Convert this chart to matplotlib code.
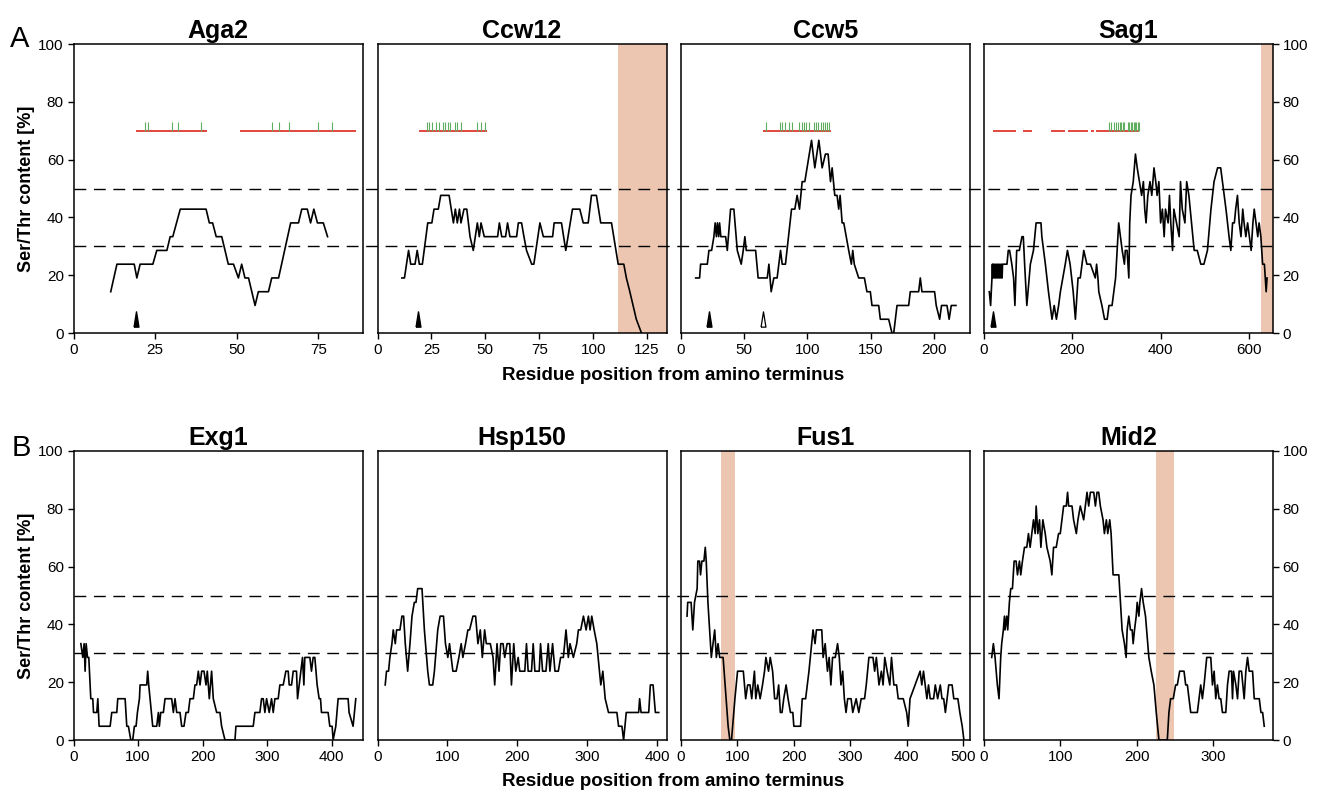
import matplotlib
matplotlib.use("Agg")
import matplotlib.pyplot as plt
import matplotlib.transforms as mtransforms
from matplotlib.lines import Line2D
import numpy as np

plt.rcParams['font.family'] = ['Liberation Sans', 'DejaVu Sans']

# sliding window of 21 residues -> content = count / 21
WINDOW = 21

# ---- row A ----
aga2_x = [11.4, 13.3, 18.6, 19.4, 20.4, 24.3, 25.5, 28.6, 29.6, 30.4, 32.7, 40.6, 41.6, 42.6, 43.7, 45.4,
          47.4, 49, 50.5, 51.5, 52.5, 53.6, 55.6, 56.6, 59.7, 60.7, 62.8, 66.5, 68.9, 69.9, 71.6, 72.6,
          73.6, 74.7, 76.5, 77.8]
aga2_k = [3, 5, 5, 4, 5, 5, 6, 6, 7, 7, 9, 9, 8, 8, 7, 7, 5, 5, 4, 5, 4, 4, 2, 3, 3, 4, 4, 8, 8, 9, 9, 8,
          9, 8, 8, 7]

ccw12_x = [11.3, 12.5, 14.4, 15.4, 17.4, 18.4, 19.4, 20.8, 23.3, 25.2, 26.2, 28.2, 29.3, 33.2, 35.2, 36.1,
           37, 38, 38.7, 40.1, 41.4, 42.9, 44.4, 46.3, 47.2, 48, 49.5, 55.7, 56.5, 57.6, 59.4, 60.3, 61.4,
           64.5, 65.3, 66.8, 67.9, 69.1, 71.5, 72.5, 75.3, 76.9, 81.2, 81.9, 85.3, 87.3, 90.4, 93.8, 95.4,
           97.7, 99.2, 101.5, 103.5, 108.5, 111.6, 114.2, 115.4, 117, 118.5, 120, 122.4]
ccw12_k = [4, 4, 6, 5, 5, 6, 5, 5, 8, 8, 9, 9, 10, 10, 8, 9, 8, 9, 8, 9, 9, 7, 6, 8, 7, 8, 7, 7, 8, 7, 7,
           8, 7, 7, 8, 8, 7, 6, 5, 5, 8, 7, 7, 8, 8, 6, 9, 9, 8, 8, 10, 10, 8, 8, 5, 5, 4, 3, 2, 1, 0]

ccw5_x = [11.6, 14.7, 15.5, 20.8, 22.1, 24.2, 26, 27, 28, 28.8, 29.8, 30.5, 31.5, 35.3, 36.6, 39.2, 41.8,
          44.5, 47.6, 49.2, 50.5, 51.6, 59, 61, 68.2, 69.5, 71.3, 73.4, 76, 78.7, 80, 82.6, 87.4, 90, 91.8,
          93.7, 95.8, 97.9, 103.2, 105.8, 109, 111.6, 114.2, 116.3, 118.2, 119.5, 121.6, 123.4, 124.7,
          125.8, 127.4, 128.7, 132.6, 134.7, 135.8, 137, 140.5, 145, 147, 149.7, 151, 156.3, 157.6, 164.2,
          166.8, 168.2, 170.8, 180, 181.3, 187.9, 189.2, 190.5, 200.5, 201.8, 204.5, 206, 210.3, 212,
          213.7, 217.4]
ccw5_k = [4, 4, 5, 5, 6, 6, 7, 8, 7, 8, 7, 8, 7, 7, 6, 9, 9, 6, 5, 6, 7, 6, 6, 4, 4, 5, 3, 4, 4, 6, 5, 5,
          9, 9, 10, 9, 11, 11, 14, 12, 14, 12, 13, 13, 11, 12, 10, 10, 9, 10, 8, 8, 6, 5, 6, 5, 4, 4, 3, 3,
          2, 2, 1, 1, 0, 0, 2, 2, 3, 3, 4, 3, 3, 2, 1, 2, 2, 1, 2, 2]

sag1_x = [12, 15, 18, 19, 20, 21, 23, 24, 26, 27, 29, 30, 32, 33, 35, 36, 38, 39, 41, 42, 44, 48, 52, 55,
          58, 63, 67, 70, 74, 80, 86, 89, 92, 97, 105, 112, 118, 129, 131, 135, 139, 146, 154, 159, 164,
          169, 173, 184, 189, 195, 202, 207, 213, 218, 226, 233, 241, 252, 255, 258, 260, 267, 273, 279,
          283, 290, 294, 298, 305, 309, 313, 318, 320, 324, 328, 330, 333, 338, 343, 347, 352, 357, 361,
          364, 367, 371, 376, 380, 385, 389, 392, 396, 400, 404, 408, 411, 417, 420, 423, 427, 430, 436,
          442, 445, 449, 455, 459, 464, 476, 483, 491, 498, 506, 514, 521, 529, 536, 540, 548, 555, 559,
          563, 567, 570, 574, 578, 582, 586, 589, 593, 597, 601, 605, 609, 612, 616, 620, 623, 627, 631,
          635, 639, 641]
sag1_k = [3, 2, 4, 5, 4, 5, 4, 5, 4, 5, 4, 5, 4, 5, 4, 5, 4, 5, 4, 5, 5, 5, 5, 6, 6, 5, 4, 2, 6, 6, 7,
          7, 5, 2, 5, 6, 8, 8, 7, 6, 5, 3, 1, 2, 1, 2, 3, 5, 6, 5, 3, 1, 4, 4, 6, 5, 5, 4, 5, 4, 3, 2, 1,
          1, 2, 2, 3, 4, 8, 7, 6, 5, 6, 6, 4, 8, 10, 11, 13, 12, 11, 10, 11, 9, 8, 10, 11, 10, 12, 11, 10,
          11, 8, 9, 7, 9, 8, 10, 8, 6, 9, 8, 7, 11, 9, 8, 11, 10, 6, 6, 5, 5, 6, 9, 11, 12, 12, 11, 9, 7,
          6, 8, 8, 9, 10, 8, 7, 9, 8, 7, 8, 7, 6, 8, 9, 8, 7, 8, 7, 5, 5, 3, 4]

# ---- row B ----
exg1_x = [11.4, 14.4, 16.5, 18, 19.6, 21.7, 23.7, 26.8, 29.9, 31, 36.1, 37.7, 39.7, 56.8, 59.3, 67.1, 68.6,
          80, 82.6, 85.1, 88.8, 91.8, 94.4, 97, 99.1, 102.2, 103.2, 113.5, 115, 116.6, 118.7, 122.8, 129,
          131.6, 133.1, 135.2, 139.3, 141.9, 152.2, 154.8, 157.4, 160, 165.1, 167.7, 171.3, 174.4, 178,
          180.6, 185.8, 188.3, 190.9, 193.5, 196.1, 198.7, 202.3, 205.4, 207.4, 210.5, 214.1, 216.7,
          221.9, 227, 229.6, 234.8, 250.3, 251.8, 278.6, 281.2, 288.9, 291.5, 294.1, 296.7, 299.3, 303.4,
          307, 309.6, 312.2, 317.3, 319.9, 325.1, 329.2, 332.8, 334.4, 338, 340.6, 345.7, 347.3, 355,
          357.1, 358.6, 366.4, 368.9, 371.5, 374.1, 377.7, 380.8, 382.9, 384.4, 394.7, 397.3, 400.9,
          402.5, 406.6, 410.2, 425.7, 427.2, 433.4, 437.6]
exg1_k = [7, 6, 7, 5, 7, 6, 6, 3, 3, 2, 2, 3, 1, 1, 2, 2, 3, 3, 1, 1, 0, 0, 1, 1, 2, 3, 4, 4, 5, 4, 3, 1,
          1, 2, 1, 2, 2, 3, 3, 2, 3, 2, 2, 1, 1, 2, 2, 3, 3, 4, 4, 5, 4, 5, 5, 4, 5, 3, 5, 3, 2, 2, 1, 0,
          0, 1, 1, 2, 2, 3, 3, 2, 3, 2, 3, 2, 3, 3, 4, 4, 5, 5, 4, 4, 5, 5, 3, 6, 4, 6, 6, 5, 6, 6, 4, 3,
          3, 2, 2, 1, 1, 0, 1, 3, 3, 2, 1, 3]

hsp150_x = [11, 12.9, 15.8, 17.7, 20.6, 22.5, 25.4, 27.3, 32.1, 34.9, 37.3, 39.7, 43.1, 46.4, 49.3, 52.6,
            55, 57.4, 63.6, 67, 71.8, 74.2, 78.9, 81.3, 86.1, 89.5, 94.3, 97.1, 100.5, 102.9, 105.3,
            107.7, 112.4, 116.3, 119.6, 122, 125.8, 129.2, 131.6, 136.4, 140.2, 143.5, 146.9, 149.8,
            153.1, 155.5, 161.2, 165.1, 167.5, 170.8, 173.7, 176.1, 179.4, 181.8, 185.2, 189, 191.4,
            194.7, 197.6, 201, 203.3, 210.5, 212.9, 215.3, 220.1, 222.5, 224.9, 231.1, 233, 235.9, 240.7,
            244, 246.4, 250.2, 253.6, 258.4, 261.7, 265.6, 269.4, 272.7, 275.1, 279.9, 284.7, 287.1,
            290.4, 294.3, 298.1, 301.4, 303.8, 306.2, 309.6, 313.4, 317.2, 319.1, 322, 325.4, 330.1,
            342.1, 344.5, 349.3, 351.7, 355.5, 373.2, 374.6, 376.6, 387.6, 389.9, 393.8, 397.1, 401.9]
hsp150_k = [4, 5, 5, 6, 7, 8, 7, 8, 8, 9, 9, 7, 5, 7, 9, 10, 10, 11, 11, 8, 5, 4, 4, 5, 8, 9, 9, 7, 6,
            7, 6, 5, 5, 6, 7, 6, 7, 8, 8, 9, 9, 7, 8, 6, 8, 7, 7, 6, 4, 7, 5, 7, 7, 6, 7, 7, 4, 7, 5, 6,
            5, 5, 7, 5, 5, 7, 5, 5, 7, 5, 5, 7, 5, 7, 5, 5, 6, 6, 8, 6, 7, 6, 7, 8, 8, 9, 8, 9, 8, 9, 8,
            7, 5, 4, 5, 3, 2, 2, 1, 1, 0, 2, 2, 3, 2, 2, 4, 4, 2, 2]

fus1_x = [10.7, 11.9, 17.9, 20.9, 23.9, 28.6, 29.8, 32.8, 34.6, 37, 40.6, 43, 44.7, 47.7, 50.7, 53.7,
          56.7, 59.7, 62.6, 65.6, 68.6, 74.6, 83.5, 86.5, 89.5, 95.5, 100.2, 110.4, 114.6, 118.1, 122.3,
          125.3, 130.1, 132.5, 136, 140.2, 144.4, 148, 150.4, 155.1, 158.1, 162.3, 165.9, 170, 173, 176,
          179, 182, 186.2, 189.7, 193.9, 198.1, 199.9, 211.8, 214.8, 220.8, 226.7, 231.5, 233.9, 237.5,
          239.9, 249.4, 251.8, 255.4, 259.5, 262.5, 265.5, 268.5, 273.3, 277.4, 280.4, 283.4, 286.4,
          289.4, 292.4, 295.3, 301.3, 304.3, 310.3, 315, 319.2, 325.2, 328.2, 332.9, 340.1, 343.1,
          346.1, 350.8, 355, 358, 361, 365.2, 369.9, 372.9, 377.1, 381.9, 384.8, 393.8, 399.8, 402.7,
          405.7, 414.7, 423.6, 426.6, 429.6, 432.6, 435.6, 438.5, 441.5, 447.5, 450.5, 454.7, 459.4,
          462.4, 465.4, 468.4, 471.4, 474.3, 480.3, 483.3, 490.5, 494, 498.2, 501.2]
fus1_k = [9, 10, 10, 8, 10, 11, 13, 13, 12, 13, 13, 14, 13, 10, 8, 6, 7, 8, 6, 7, 6, 6, 1, 0, 0, 3, 5, 5,
          3, 4, 4, 3, 5, 3, 4, 3, 4, 5, 6, 5, 6, 5, 3, 3, 4, 2, 2, 3, 4, 3, 2, 2, 1, 1, 3, 3, 5, 7, 8, 7,
          8, 8, 6, 7, 5, 6, 4, 6, 6, 7, 6, 4, 5, 3, 2, 3, 3, 2, 3, 2, 3, 3, 4, 6, 6, 5, 6, 4, 5, 4, 6, 5,
          4, 6, 4, 4, 3, 3, 2, 1, 3, 4, 5, 4, 5, 4, 3, 4, 3, 3, 4, 3, 4, 3, 3, 2, 3, 4, 4, 3, 3, 2, 1, 0]

mid2_x = [10.1, 12.3, 14.5, 17.5, 19.7, 21.9, 23.2, 25.4, 26.8, 27.6, 29.8, 31.1, 33.3, 35.1, 37.3, 39.5,
          42.1, 43.9, 46.5, 48.2, 50.4, 53.1, 56.1, 58.3, 60.5, 62.7, 64.9, 67.1, 68.4, 70.6, 72.8, 74.6,
          77.2, 80.3, 82.5, 86.8, 89, 91.2, 94.7, 97.8, 100, 102.2, 104.4, 107.9, 109.6, 111, 115.4,
          117.5, 121.1, 123.2, 126.3, 130.7, 135.1, 137.3, 139.5, 143.9, 146.1, 148.2, 150.4, 152.6,
          156.1, 157.9, 160.5, 162.3, 164.9, 166.7, 169.3, 176.8, 178.9, 181.1, 184.2, 186.4, 187.7,
          189.9, 192.1, 194.3, 195.6, 197.4, 199.6, 200.9, 203.1, 204.4, 206.6, 208.8, 211.8, 216.2,
          219.3, 222.8, 225.9, 229.4, 240.4, 242.5, 244.7, 248.2, 251.3, 253.5, 256.6, 262.3, 264.5,
          266.7, 268.9, 271.1, 279.8, 282, 284.2, 286.4, 288.6, 292.1, 297.4, 299.6, 301.8, 303.9,
          306.1, 308.3, 310.5, 312.7, 317.1, 319.3, 321.5, 324.6, 325.9, 327.2, 330.3, 332.5, 334.6,
          337.7, 341.2, 343.4, 345.6, 347.8, 352.2, 354.4, 361, 363.2, 365.4, 367.5]
mid2_k = [6, 7, 6, 4, 3, 6, 7, 8, 9, 8, 9, 8, 10, 11, 11, 13, 13, 12, 13, 12, 13, 14, 14, 15, 14, 15, 16,
          15, 17, 15, 16, 14, 16, 15, 14, 13, 12, 14, 14, 15, 15, 16, 17, 17, 18, 17, 17, 16, 15, 16, 17,
          16, 18, 17, 18, 18, 17, 18, 18, 17, 16, 15, 16, 15, 16, 15, 12, 12, 10, 8, 7, 6, 8, 9, 8, 8, 7,
          8, 9, 10, 9, 10, 11, 10, 9, 6, 5, 4, 2, 0, 0, 2, 3, 3, 4, 4, 5, 5, 4, 4, 3, 2, 2, 3, 4, 3, 4,
          6, 6, 4, 5, 3, 4, 3, 3, 2, 2, 4, 5, 5, 3, 5, 4, 3, 5, 5, 3, 5, 6, 5, 5, 3, 3, 2, 2, 1]

# annotations (row A): red segments at 70 %, green S/T marks, arrowheads
aga2_red = [(19, 41), (51, 86.5)]
aga2_green = [21.9, 22.9, 30.1, 31.9, 39, 60.9, 62.9, 66, 75, 79.1]
ccw12_red = [(19.1, 50.9)]
ccw12_green = [22.8, 24, 25.5, 27, 28.4, 30.6, 31.5, 32.6, 33.8, 35.8, 37, 38.9, 46, 48, 49.8]
ccw5_red = [(64.7, 118.4)]
ccw5_green = [67.4, 77.9, 80, 82.6, 85.3, 87.9, 93.2, 95.3, 97.1, 98.9, 101, 105.3, 106.8, 108.4,
              110.3, 112.6, 114.2, 115.8, 117.4]
sag1_red = [(19.7, 72.7), (89, 108), (152, 184), (189.4, 235), (243, 248.5), (254.5, 351.5)]
sag1_green = [282.6, 287.9, 295.5, 300, 303.8, 307.6, 310.6, 314.4, 317.4, 326.5, 329.5, 332.6, 335.6,
              338.6, 341.7, 344.7, 347.7, 350.8]
arrow_filled = {"Aga2": [19], "Ccw12": [19], "Ccw5": [22], "Sag1": [20]}
arrow_open = {"Ccw5": [65]}

# shaded C-terminal / transmembrane regions
shade = {"Ccw12": (111.7, 134), "Sag1": (627, 654.5), "Fus1": (71, 95), "Mid2": (225, 249.6)}

names = [["Aga2", "Ccw12", "Ccw5", "Sag1"], ["Exg1", "Hsp150", "Fus1", "Mid2"]]
xmax = {"Aga2": 88.5, "Ccw12": 134, "Ccw5": 228.5, "Sag1": 654.5,
        "Exg1": 448, "Hsp150": 413, "Fus1": 512, "Mid2": 379}
xticks = {"Aga2": [0, 25, 50, 75], "Ccw12": [0, 25, 50, 75, 100, 125], "Ccw5": [0, 50, 100, 150, 200],
          "Sag1": [0, 200, 400, 600], "Exg1": [0, 100, 200, 300, 400], "Hsp150": [0, 100, 200, 300, 400],
          "Fus1": [0, 100, 200, 300, 400, 500], "Mid2": [0, 100, 200, 300]}
curves = {"Aga2": (aga2_x, aga2_k), "Ccw12": (ccw12_x, ccw12_k), "Ccw5": (ccw5_x, ccw5_k),
          "Sag1": (sag1_x, sag1_k), "Exg1": (exg1_x, exg1_k), "Hsp150": (hsp150_x, hsp150_k),
          "Fus1": (fus1_x, fus1_k), "Mid2": (mid2_x, mid2_k)}
marks = {"Aga2": (aga2_red, aga2_green), "Ccw12": (ccw12_red, ccw12_green),
         "Ccw5": (ccw5_red, ccw5_green), "Sag1": (sag1_red, sag1_green)}

W, H = 1325, 798
fig = plt.figure(figsize=(W / 100, H / 100), dpi=100)

lefts = [73.5, 377.5, 681, 984]
width = 289
tops = [44, 451]
height = 289

# narrow upward arrowhead, closed so the open one gets all three edges
tri = [(-0.32, -1), (0.32, -1), (0, 1), (-0.32, -1)]

axes = []
for r in range(2):
    row = []
    for c in range(4):
        name = names[r][c]
        ax = fig.add_axes([lefts[c] / W, 1 - (tops[r] + height) / H, width / W, height / H])
        x, k = curves[name]
        ax.plot(x, 100 * np.array(k) / WINDOW, color="black", lw=1.2, zorder=3)
        if name in shade:
            ax.axvspan(*shade[name], color="#ecc6b1", lw=0, zorder=0.5)
        if name in marks:
            red, green = marks[name]
            for a, b in red:
                ax.hlines(70, a, b, color="#e2463c", lw=1.4, zorder=2)
            ax.vlines(green, 70, 73, color="#5fae5f", lw=0.8, zorder=2)
        for xa in arrow_filled.get(name, []):
            ax.plot([xa], [4.8], marker=tri, ms=11, color="black", ls="none", zorder=4)
        for xa in arrow_open.get(name, []):
            ax.plot([xa], [4.8], marker=tri, ms=11, mfc="white", mec="black", mew=0.9, ls="none",
                    zorder=4)
        ax.set_xlim(0, xmax[name])
        ax.set_ylim(0, 100)
        ax.set_xticks(xticks[name])
        ax.set_title(name, fontsize=18, fontweight="bold", pad=4)
        for s in ax.spines.values():
            s.set_linewidth(1.1)
        ax.tick_params(axis="x", direction="out", length=4, width=1, labelsize=11, pad=3)
        ax.set_yticks([0, 20, 40, 60, 80, 100])
        if c == 0:
            ax.tick_params(axis="y", direction="out", length=4, width=1, labelsize=11, pad=3)
        elif c == 3:
            ax.tick_params(axis="y", direction="out", length=4, width=1, labelsize=11, pad=3,
                           left=False, labelleft=False, right=True, labelright=True)
        else:
            ax.tick_params(axis="y", left=False, labelleft=False)
        row.append(ax)
    axes.append(row)

    # dashed 30 % / 50 % guides running across the whole row
    trans = mtransforms.blended_transform_factory(fig.transFigure, row[0].transData)
    for yv in (30, 50):
        fig.add_artist(Line2D([lefts[0] / W, (lefts[3] + width) / W], [yv, yv], transform=trans,
                              color="black", lw=1.0, dashes=(8.5, 5.5), zorder=5))

    fig.text(673 / W, 1 - (tops[r] + height + 42) / H, "Residue position from amino terminus",
             ha="center", va="center", fontsize=13.5, fontweight="bold")
    fig.text(27 / W, 1 - (tops[r] + height / 2) / H, "Ser/Thr content [%]", rotation=90,
             ha="center", va="center", fontsize=13, fontweight="bold")

fig.text(10 / W, 1 - 47 / H, "A", fontsize=21, va="baseline", ha="left")
fig.text(12 / W, 1 - 456 / H, "B", fontsize=21, va="baseline", ha="left")

fig.savefig("out.png", dpi=100)
